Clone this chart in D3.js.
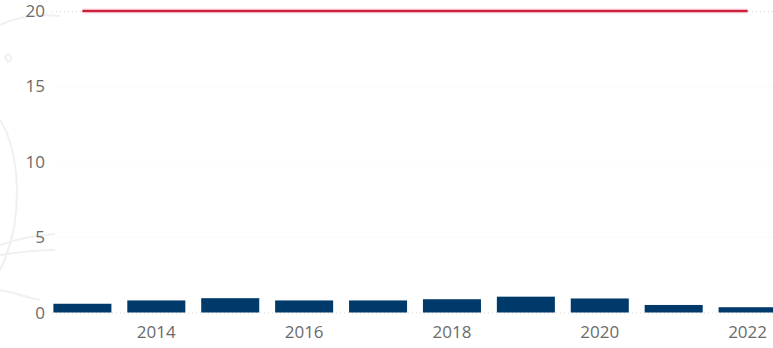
<!DOCTYPE html>
<html>
<head>
<meta charset="utf-8">
<script src="https://cdn.jsdelivr.net/npm/d3@7"></script>
<style>
  html, body { margin: 0; padding: 0; background: #fff; }
  svg { display: block; }
</style>
</head>
<body>
<div id="chart"></div>
<script>
// chart values
var years = [2013, 2014, 2015, 2016, 2017, 2018, 2019, 2020, 2021, 2022];
var values = [0.58, 0.8, 0.95, 0.8, 0.8, 0.88, 1.05, 0.93, 0.5, 0.35];
var target = [20, 20, 20, 20, 20, 20, 20, 20, 20, 20];
var yTicks = [0, 5, 10, 15, 20];
var xTickLabels = [2014, 2016, 2018, 2020, 2022];

var width = 773, height = 348;
var margin = { top: 11, right: 0, bottom: 35.5, left: 46 };

var svg = d3.select("#chart").append("svg")
  .attr("width", width)
  .attr("height", height);

// faint background decoration on the left
var deco = svg.append("g")
  .attr("fill", "none")
  .attr("stroke", "#f0f0f0")
  .attr("stroke-width", 2);
deco.append("path").attr("d", "M0,25 C20,15 40,14 60,16");
deco.append("path").attr("d", "M0,120 C20,150 25,220 0,270");
deco.append("path").attr("d", "M0,245 C20,238 40,235 55,234");
deco.append("path").attr("d", "M0,255 C20,252 40,250 55,250");
deco.append("path").attr("d", "M0,290 C15,293 30,298 40,300");
deco.append("path").attr("d", "M5,57 C10,50 14,60 8,62 Z");

var x = d3.scaleBand()
  .domain(years)
  .range([margin.left, margin.left + years.length * 73.8])
  .paddingInner(0.215)
  .paddingOuter(0.1);

var y = d3.scaleLinear()
  .domain([0, 20])
  .range([height - margin.bottom, margin.top]);

// gridlines
svg.append("g")
  .selectAll("line")
  .data(yTicks)
  .enter().append("line")
  .attr("x1", 52)
  .attr("x2", width)
  .attr("y1", function(d) { return y(d) + 0.5; })
  .attr("y2", function(d) { return y(d) + 0.5; })
  .attr("stroke", function(d) { return d == 0 || d == 20 ? "#d8d8d8" : "#f2f2f2"; })
  .attr("stroke-dasharray", "1,3");

// y axis labels
svg.append("g")
  .selectAll("text")
  .data(yTicks)
  .enter().append("text")
  .attr("x", 45)
  .attr("y", function(d) { return y(d); })
  .attr("dy", "0.36em")
  .attr("text-anchor", "end")
  .style("font-family", "'Open Sans', 'Noto Sans', sans-serif")
  .style("font-size", "17px")
  .style("fill", "#6b6b6b")
  .text(function(d) { return d; });

// bars
svg.append("g")
  .selectAll("rect")
  .data(values)
  .enter().append("rect")
  .attr("x", function(d, i) { return x(years[i]); })
  .attr("width", x.bandwidth())
  .attr("y", function(d) { return y(d); })
  .attr("height", function(d) { return y(0) - y(d); })
  .attr("fill", "#003a6b");

// target line
var line = d3.line()
  .x(function(d, i) { return x(years[i]) + x.bandwidth() / 2; })
  .y(function(d) { return y(d); });

svg.append("path")
  .datum(target)
  .attr("d", line)
  .attr("fill", "none")
  .attr("stroke", "#f4b8c3")
  .attr("stroke-width", 4.5);

svg.append("path")
  .datum(target)
  .attr("d", line)
  .attr("fill", "none")
  .attr("stroke", "#cc1f3d")
  .attr("stroke-width", 2.2);

// x axis labels
svg.append("g")
  .selectAll("text")
  .data(xTickLabels)
  .enter().append("text")
  .attr("x", function(d) { return x(d) + x.bandwidth() / 2; })
  .attr("y", 338)
  .attr("text-anchor", "middle")
  .style("font-family", "'Open Sans', 'Noto Sans', sans-serif")
  .style("font-size", "17px")
  .style("fill", "#6b6b6b")
  .text(function(d) { return d; });
</script>
</body>
</html>
